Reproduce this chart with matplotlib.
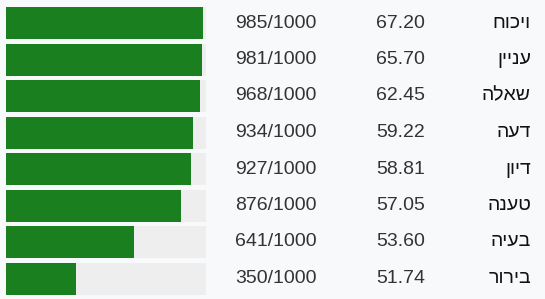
import matplotlib
matplotlib.use("Agg")
import matplotlib.pyplot as plt
import matplotlib.transforms as mtransforms

# data
words = ["ויכוח", "עניין", "שאלה", "דעה", "דיון", "טענה", "בעיה", "בירור"]
scores = [67.20, 65.70, 62.45, 59.22, 58.81, 57.05, 53.60, 51.74]
counts = [985, 981, 968, 934, 927, 876, 641, 350]
total = 1000

W, H = 545, 299
fig = plt.figure(figsize=(W / 100, H / 100), dpi=100)
fig.patch.set_facecolor("#f8f9fb")

# bar area: 6..206 px wide, rows of 36.5 px
ax = fig.add_axes([6 / W, 2.25 / H, 200 / W, 292 / H])
ax.set_facecolor("none")
ypos = list(range(len(words)))
ax.barh(ypos, [total] * len(words), height=32 / 36.5, color="#eeeeee", linewidth=0)
ax.barh(ypos, counts, height=32 / 36.5, color="#1a7f1f", linewidth=0)
ax.set_xlim(0, total)
ax.set_ylim(len(words) - 0.5, -0.5)
ax.axis("off")

# text columns, x in figure pixels, y in row units
trans = mtransforms.blended_transform_factory(fig.dpi_scale_trans, ax.transData)
font = dict(family=["Liberation Sans", "DejaVu Sans"], fontsize=14, va="center", ha="right")
for i in ypos:
    ax.text(317 / 100, i, f"{counts[i]}/{total}", transform=trans, color="#333333", **font)
    ax.text(425 / 100, i, f"{scores[i]:.2f}", transform=trans, color="#333333", **font)
    # matplotlib has no bidi, so hand it the letters in visual order
    ax.text(531 / 100, i, words[i][::-1], transform=trans, color="#111111", **font)

fig.savefig("out.png", dpi=100, facecolor=fig.get_facecolor())
